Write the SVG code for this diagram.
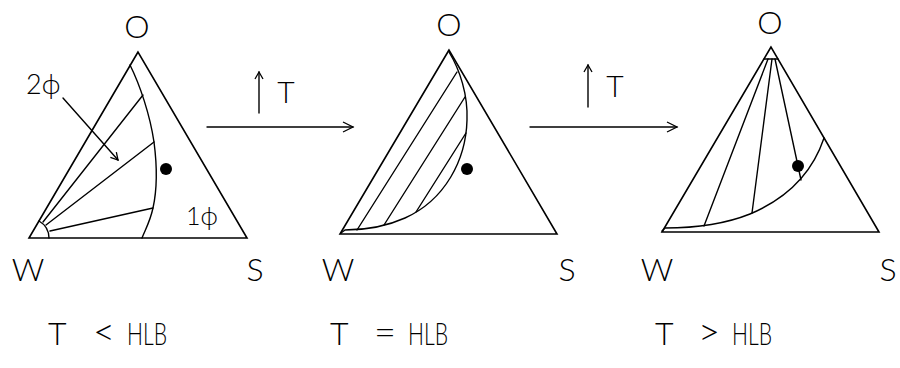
<svg xmlns="http://www.w3.org/2000/svg" width="900" height="368" viewBox="0 0 900 368">
<style>
.ln{fill:none;stroke:#000;stroke-width:1.4;stroke-linejoin:round;stroke-linecap:round}
.tri{fill:none;stroke:#000;stroke-width:1.6;stroke-linejoin:miter}
.dot{fill:#000}
.tx{font-family:Lato,"Liberation Sans",sans-serif;font-weight:300;fill:#000;font-size:32px;text-anchor:middle}
.bt{font-family:Lato,"Liberation Sans",sans-serif;font-weight:300;fill:#000;font-size:32px}
.sy{font-size:38px}
.sm{font-family:Lato,"DejaVu Sans",sans-serif;font-weight:300;fill:#000;font-size:25px}
</style>
<defs>
<marker id="ah" markerUnits="userSpaceOnUse" markerWidth="14" markerHeight="14" refX="11" refY="6" orient="auto">
<path d="M1,1 L11,6 L1,11" fill="none" stroke="#000" stroke-width="1.3"/>
</marker>
<marker id="ahs" markerUnits="userSpaceOnUse" markerWidth="12" markerHeight="12" refX="8" refY="5" orient="auto">
<path d="M1,1 L8,5 L1,9" fill="none" stroke="#000" stroke-width="1.3"/>
</marker>
</defs>

<g id="panel-low">
<text class="tx" x="137" y="38">O</text>
<path class="tri" d="M138,52 L29,238 L247,238 Z"/>
<path class="ln" d="M130,65 C140,85 150,115 154,142 C157,165 157,190 153,208 C150,222 145,230 142,238"/>
<path class="ln" d="M39,221 A20,20 0 0 1 49,238"/>
<path class="ln" d="M43,222 L143,95"/>
<path class="ln" d="M46,225 L154,142"/>
<path class="ln" d="M50,231 L153,208"/>
<circle class="dot" cx="166" cy="169" r="6"/>
<text class="sm" x="26" y="94" style="font-size:27px">2ϕ</text>
<path class="ln" d="M63,98 L118,160" marker-end="url(#ahs)"/>
<text class="sm" x="186" y="225">1ϕ</text>
<text class="tx" x="28" y="281">W</text>
<text class="tx" x="255" y="281">S</text>
<text class="bt" y="345"><tspan x="48">T </tspan><tspan x="93" class="sy">&lt; </tspan><tspan x="127" textLength="40" lengthAdjust="spacingAndGlyphs">HLB</tspan></text>
</g>

<g id="panel-eq">
<text class="tx" x="449" y="36">O</text>
<path class="tri" d="M449,50 L340,234 L557,234 Z"/>
<path class="ln" d="M449,52 C460,70 468,95 467,120 C466,160 445,200 405,218 C385,227 365,230 345,230 L341,233"/>
<path class="ln" d="M357,230 L457,72"/>
<path class="ln" d="M384,225 L465,97"/>
<path class="ln" d="M416,212 L466,133"/>
<circle class="dot" cx="467" cy="169" r="6"/>
<text class="tx" x="338" y="281">W</text>
<text class="tx" x="567" y="281">S</text>
<text class="bt" y="345"><tspan x="330">T </tspan><tspan x="374" class="sy">= </tspan><tspan x="408" textLength="40" lengthAdjust="spacingAndGlyphs">HLB</tspan></text>
</g>

<g id="panel-high">
<text class="tx" x="770" y="34">O</text>
<path class="tri" d="M771,47 L662,232 L879,232 Z"/>
<path class="ln" d="M764,59 L778,59"/>
<path class="ln" d="M824,138 C815,165 795,195 750,214 C720,226 690,228 665,228 L662,231"/>
<path class="ln" d="M768,59 L704,226"/>
<path class="ln" d="M772,59 L752,213"/>
<path class="ln" d="M775,59 L801,180"/>
<circle class="dot" cx="798" cy="166" r="6"/>
<text class="tx" x="657" y="281">W</text>
<text class="tx" x="888" y="281">S</text>
<text class="bt" y="345"><tspan x="655">T </tspan><tspan x="698" class="sy">&gt; </tspan><tspan x="732" textLength="40" lengthAdjust="spacingAndGlyphs">HLB</tspan></text>
</g>

<g id="connectors">
<path class="ln" d="M207,127 L353,127" marker-end="url(#ah)"/>
<path class="ln" d="M259,113 L259,72" marker-end="url(#ahs)"/>
<text class="tx" x="286" y="103" style="font-size:30px">T</text>
<path class="ln" d="M530,127 L677,127" marker-end="url(#ah)"/>
<path class="ln" d="M588,107 L588,65" marker-end="url(#ahs)"/>
<text class="tx" x="615" y="97" style="font-size:30px">T</text>
</g>
</svg>
